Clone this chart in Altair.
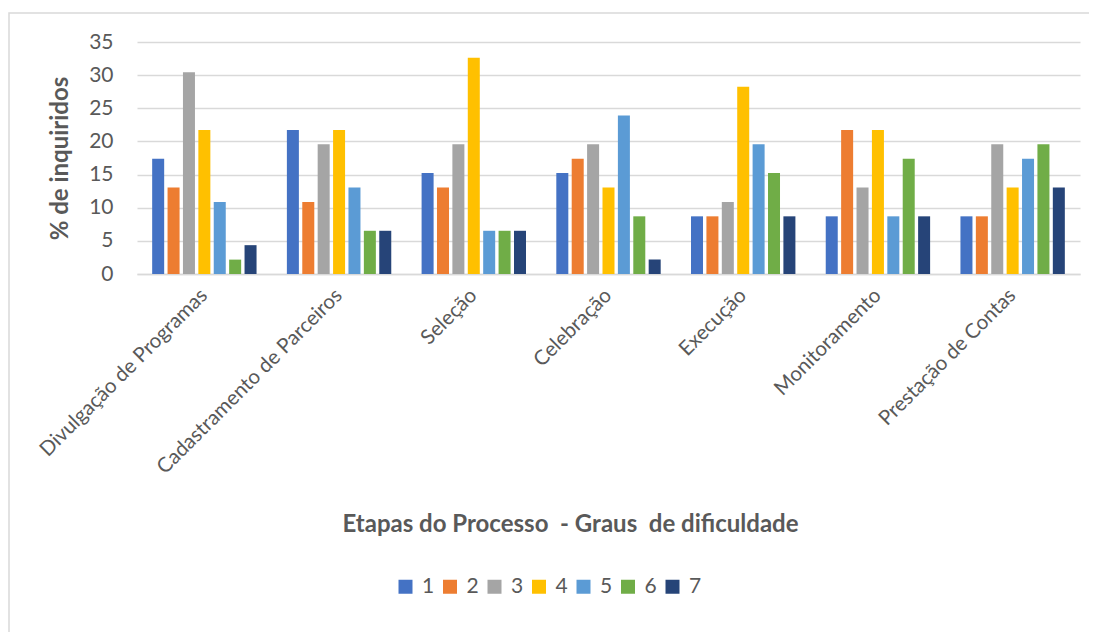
import altair as alt
import pandas as pd

etapas = ["Divulgação de Programas", "Cadastramento de Parceiros", "Seleção",
          "Celebração", "Execução", "Monitoramento", "Prestação de Contas"]
graus = ["1", "2", "3", "4", "5", "6", "7"]
cores = ["#4472C4", "#ED7D31", "#A5A5A5", "#FFC000", "#5B9BD5", "#70AD47", "#264478"]

g1 = [17.39, 21.74, 15.22, 15.22, 8.70, 8.70, 8.70]
g2 = [13.04, 10.87, 13.04, 17.39, 8.70, 21.74, 8.70]
g3 = [30.43, 19.57, 19.57, 19.57, 10.87, 13.04, 19.57]
g4 = [21.74, 21.74, 32.61, 13.04, 28.26, 21.74, 13.04]
g5 = [10.87, 13.04, 6.52, 23.91, 19.57, 8.70, 17.39]
g6 = [2.17, 6.52, 6.52, 8.70, 15.22, 17.39, 19.57]
g7 = [4.35, 6.52, 6.52, 2.17, 8.70, 8.70, 13.04]

series = [g1, g2, g3, g4, g5, g6, g7]
rows = []
for gi, vals in zip(graus, series):
    for e, v in zip(etapas, vals):
        rows.append({"Etapa": e, "Grau": gi, "Valor": v})
df = pd.DataFrame(rows)

FONT = "Lato"
TXT = "#595959"
W, H = 943, 232

bars = alt.Chart(df).mark_bar().encode(
    x=alt.X("Etapa:N", sort=etapas,
            scale=alt.Scale(paddingInner=0.2, paddingOuter=0.1),
            axis=alt.Axis(title="Etapas do Processo\u00a0 - Graus\u00a0 de dificuldade",
                          labelAngle=-45, labelAlign="right", labelBaseline="middle",
                          labelPadding=18, labelFontSize=20.5, labelColor=TXT, labelFont=FONT,
                          labelLimit=500,
                          ticks=False, domainColor="#D9D9D9", domainWidth=1.5,
                          titleFont=FONT, titleFontSize=24, titleFontWeight="bold",
                          titleColor=TXT, titleX=433, titleY=250, titleBaseline="middle",
                          titleAlign="center")),
    xOffset=alt.XOffset("Grau:N", sort=graus,
                        scale=alt.Scale(paddingInner=0.22, paddingOuter=0.11)),
    y=alt.Y("Valor:Q", scale=alt.Scale(domain=[0, 35]),
            axis=alt.Axis(title="% de inquiridos", values=[0, 5, 10, 15, 20, 25, 30, 35],
                          grid=True, gridColor="#D9D9D9", gridWidth=1.5,
                          domain=False, ticks=False, labelPadding=24,
                          labelFontSize=21, labelColor=TXT, labelFont=FONT,
                          titleFont=FONT, titleFontSize=24, titleFontWeight="bold",
                          titleColor=TXT, titlePadding=16)),
    color=alt.Color("Grau:N", sort=graus,
                    scale=alt.Scale(domain=graus, range=cores),
                    legend=alt.Legend(title=None, orient="none", direction="horizontal",
                                      legendX=258, legendY=534, symbolType="square",
                                      symbolSize=196, symbolStrokeWidth=0,
                                      labelFontSize=21, labelColor=TXT, labelFont=FONT,
                                      labelOffset=6, columnPadding=4.5, padding=0)),
)

border = alt.Chart(pd.DataFrame({"a": [0]})).mark_rect(
    fill=None, stroke="#D9D9D9", strokeWidth=1.5
).encode(x=alt.value(-128), x2=alt.value(953), y=alt.value(-29), y2=alt.value(700))

chart = alt.layer(border, bars).properties(
    width=W, height=H,
    autosize=alt.AutoSizeParams(type="none"),
    padding={"left": 129, "top": 34, "right": 9, "bottom": 360},
).configure_view(stroke=None)

chart.save("out.html", embed_options={"renderer": "svg", "actions": False})
